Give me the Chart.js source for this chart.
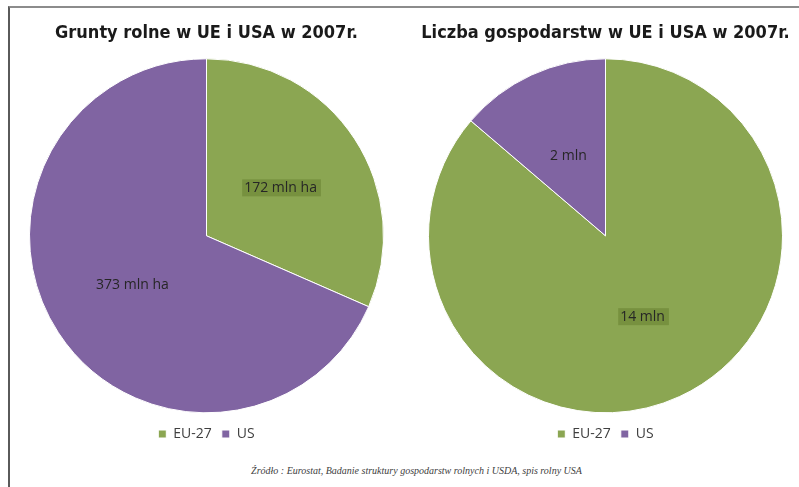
<!DOCTYPE html>
<html>
<head>
<meta charset="utf-8">
<script src="https://cdn.jsdelivr.net/npm/chart.js@4"></script>
<style>
  body { margin: 0; width: 799px; height: 487px; background: #fff; position: relative; overflow: hidden; }
  .frame { position: absolute; left: 8px; top: 6px; right: -4px; bottom: -4px;
           border-top: 2px solid #8c8c8c; border-left: 2px solid #5a5a5a; }
  .box { position: absolute; top: 8px; width: 379px; height: 443px; }
  .source { position: absolute; left: 0; width: 833px; top: 465px; text-align: center;
            font: italic 10px "Liberation Serif", "DejaVu Serif", serif; color: #404040; }
</style>
</head>
<body>
<div class="frame"></div>
<div class="box" style="left:17px"><canvas id="g1"></canvas></div>
<div class="box" style="left:416px"><canvas id="g2"></canvas></div>
<div class="source">Źródło : Eurostat, Badanie struktury gospodarstw rolnych i USDA, spis rolny USA</div>
<script>
const categories = ['EU-27', 'US'];
const landValues = [172, 373];
const farmValues = [13.8, 2.2];
const titles = ['Grunty rolne w UE i USA w 2007r.', 'Liczba gospodarstw w UE i USA w 2007r.'];
const units = ['mln ha', 'mln'];

const colors = ['#8BA652', '#8064A2'];

// labels inside the slices, box behind the EU-27 one
const sliceLabels = {
    id: 'sliceLabels',
    afterDatasetsDraw(chart, args, opts) {
        const ctx = chart.ctx;
        const meta = chart.getDatasetMeta(0);
        const values = chart.data.datasets[0].data;
        ctx.save();
        ctx.font = '14px "Open Sans", "Liberation Sans", sans-serif';
        ctx.textBaseline = 'middle';
        ctx.textAlign = 'center';
        meta.data.forEach((arc, i) => {
            const p = arc.getProps(['x', 'y', 'startAngle', 'endAngle', 'outerRadius'], true);
            const mid = (p.startAngle + p.endAngle) / 2;
            const cx = p.x + Math.cos(mid) * p.outerRadius * 0.5;
            const cy = p.y + Math.sin(mid) * p.outerRadius * 0.5;
            const text = Math.round(values[i]) + ' ' + opts.unit;
            if (i === 0) {
                const w = ctx.measureText(text).width;
                ctx.fillStyle = '#77913F';
                ctx.fillRect(cx - w / 2 - 2, cy - 8, w + 6, 17);
            }
            ctx.fillStyle = '#262626';
            ctx.fillText(text, cx, cy + 1);
        });
        ctx.restore();
    }
};

function makePie(id, values, title, unit) {
    new Chart(document.getElementById(id).getContext('2d'), {
        type: 'pie',
        data: {
            labels: categories,
            datasets: [{
                data: values,
                backgroundColor: colors,
                borderColor: '#ffffff',
                borderWidth: 1,
                radius: 177
            }]
        },
        options: {
            responsive: true,
            maintainAspectRatio: false,
            animation: false,
            events: [],
            layout: { padding: 0 },
            plugins: {
                title: {
                    display: true,
                    text: title,
                    color: '#1a1a1a',
                    font: { family: '"DejaVu Sans Condensed", sans-serif', size: 18, weight: 'bold', lineHeight: 1.2 },
                    padding: { top: 15, bottom: 10 }
                },
                legend: {
                    position: 'bottom',
                    labels: {
                        boxWidth: 8,
                        boxHeight: 8,
                        padding: 10,
                        color: '#404040',
                        font: { family: '"Open Sans", "Liberation Sans", sans-serif', size: 14 }
                    }
                },
                tooltip: { enabled: false },
                sliceLabels: { unit: unit }
            }
        },
        plugins: [sliceLabels]
    });
}

makePie('g1', landValues, titles[0], units[0]);
makePie('g2', farmValues, titles[1], units[1]);
</script>
</body>
</html>
